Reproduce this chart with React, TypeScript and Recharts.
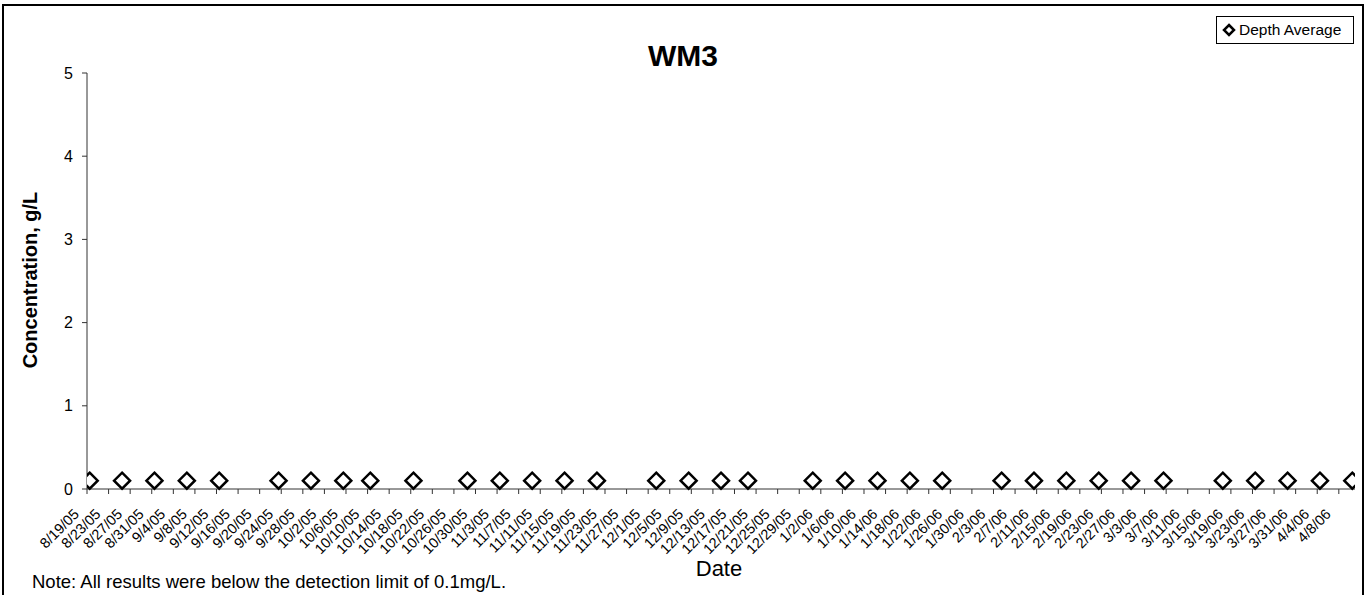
import { ScatterChart, Scatter, XAxis, YAxis, Legend } from "recharts";

// sampling dates and the depth-averaged result (all at the 0.1 detection limit)
const sampleDates = [
  "8/19/05", "8/25/05", "8/31/05", "9/6/05", "9/12/05", "9/23/05", "9/29/05",
  "10/5/05", "10/10/05", "10/18/05", "10/28/05", "11/3/05", "11/9/05", "11/15/05",
  "11/21/05", "12/2/05", "12/8/05", "12/14/05", "12/19/05", "12/31/05", "1/6/06",
  "1/12/06", "1/18/06", "1/24/06", "2/4/06", "2/10/06", "2/16/06", "2/22/06",
  "2/28/06", "3/6/06", "3/17/06", "3/23/06", "3/29/06", "4/4/06", "4/10/06",
];

const depthAverage = [
  0.1, 0.1, 0.1, 0.1, 0.1, 0.1, 0.1,
  0.1, 0.1, 0.1, 0.1, 0.1, 0.1, 0.1,
  0.1, 0.1, 0.1, 0.1, 0.1, 0.1, 0.1,
  0.1, 0.1, 0.1, 0.1, 0.1, 0.1, 0.1,
  0.1, 0.1, 0.1, 0.1, 0.1, 0.1, 0.1,
];

const tickDates = [
  "8/19/05", "8/23/05", "8/27/05", "8/31/05", "9/4/05", "9/8/05", "9/12/05", "9/16/05",
  "9/20/05", "9/24/05", "9/28/05", "10/2/05", "10/6/05", "10/10/05", "10/14/05", "10/18/05",
  "10/22/05", "10/26/05", "10/30/05", "11/3/05", "11/7/05", "11/11/05", "11/15/05", "11/19/05",
  "11/23/05", "11/27/05", "12/1/05", "12/5/05", "12/9/05", "12/13/05", "12/17/05", "12/21/05",
  "12/25/05", "12/29/05", "1/2/06", "1/6/06", "1/10/06", "1/14/06", "1/18/06", "1/22/06",
  "1/26/06", "1/30/06", "2/3/06", "2/7/06", "2/11/06", "2/15/06", "2/19/06", "2/23/06",
  "2/27/06", "3/3/06", "3/7/06", "3/11/06", "3/15/06", "3/19/06", "3/23/06", "3/27/06",
  "3/31/06", "4/4/06", "4/8/06",
];

const yTicks = [0, 1, 2, 3, 4, 5];

const FONT = "'Liberation Sans', Arial, sans-serif";
const DAY_MS = 86400000;

function toUtc(s: string) {
  const [m, d, y] = s.split("/").map(Number);
  return Date.UTC(2000 + y, m - 1, d);
}

const START = toUtc(tickDates[0]);
const dayIndex = (s: string) => (toUtc(s) - START) / DAY_MS;

const tickDays = tickDates.map(dayIndex);
const labelByDay = new Map(tickDays.map((d, i) => [d, tickDates[i]]));

// Excel puts each daily value in the middle of its day slot, hence the +0.5
const data = sampleDates.map((date, i) => ({
  date,
  day: dayIndex(date) + 0.5,
  value: depthAverage[i],
}));

const xMax = dayIndex(sampleDates[sampleDates.length - 1]) + 1;

function DateTick(props: any) {
  const { x, y, payload } = props;
  return (
    <g transform={`translate(${x},${y})`}>
      <text
        x={-7}
        y={19}
        transform="rotate(-45 -7 19)"
        textAnchor="end"
        fontSize={14.5}
        fontFamily={FONT}
        fill="#000"
      >
        {labelByDay.get(payload.value) ?? ""}
      </text>
    </g>
  );
}

function Diamond(props: any) {
  const { cx, cy } = props;
  const r = 8;
  return (
    <polygon
      points={`${cx},${cy - r} ${cx + r},${cy} ${cx},${cy + r} ${cx - r},${cy}`}
      fill="#fff"
      stroke="#000"
      strokeWidth={2.5}
    />
  );
}

function LegendBox() {
  return (
    <div
      style={{
        width: 138,
        height: 28,
        border: "1px solid #000",
        background: "#fff",
        display: "flex",
        alignItems: "center",
        fontFamily: FONT,
        fontSize: 15.5,
        color: "#000",
        boxSizing: "border-box",
      }}
    >
      <svg width={22} height={20} style={{ flex: "none" }}>
        <polygon points="12,5 17,10 12,15 7,10" fill="#fff" stroke="#000" strokeWidth={2.5} />
      </svg>
      <span>Depth Average</span>
    </div>
  );
}

export default function App() {
  return (
    <div
      style={{
        position: "absolute",
        left: 0,
        top: 0,
        width: 1369,
        height: 595,
        overflow: "hidden",
        background: "#fff",
      }}
    >
      <ScatterChart
        width={1369}
        height={595}
        margin={{ top: 73, right: 14, bottom: 0, left: 0 }}
      >
        <XAxis
          type="number"
          dataKey="day"
          domain={[0, xMax]}
          ticks={tickDays}
          interval={0}
          tick={<DateTick />}
          tickSize={5}
          height={106}
          stroke="#333"
          allowDataOverflow
        />
        <YAxis
          type="number"
          dataKey="value"
          domain={[0, 5]}
          ticks={yTicks}
          interval={0}
          width={87}
          tickSize={5}
          tickMargin={9}
          stroke="#333"
          tick={{ fontSize: 16, fontFamily: FONT, fill: "#000" }}
        />
        {/* middle/center keeps the legend from reserving space in the plot layout */}
        <Legend
          layout="horizontal"
          verticalAlign="middle"
          align="center"
          content={() => <LegendBox />}
          wrapperStyle={{ top: 16, left: 1216, width: 138 }}
        />
        <Scatter
          name="Depth Average"
          data={data}
          shape={(p: any) => <Diamond {...p} />}
          isAnimationActive={false}
        />
      </ScatterChart>

      <svg
        width={1369}
        height={595}
        style={{ position: "absolute", left: 0, top: 0, pointerEvents: "none" }}
        fontFamily={FONT}
      >
        <rect x={3} y={5} width={1360} height={640} fill="none" stroke="#000" strokeWidth={2} />
        <text x={683} y={66} textAnchor="middle" fontSize={30} fontWeight="bold">
          WM3
        </text>
        <text
          x={37}
          y={280}
          transform="rotate(-90 37 280)"
          textAnchor="middle"
          fontSize={20}
          fontWeight="bold"
        >
          Concentration, g/L
        </text>
        <text x={719} y={576} textAnchor="middle" fontSize={22}>
          Date
        </text>
        <text x={32} y={588} fontSize={18.5}>
          Note: All results were below the detection limit of 0.1mg/L.
        </text>
      </svg>
    </div>
  );
}
